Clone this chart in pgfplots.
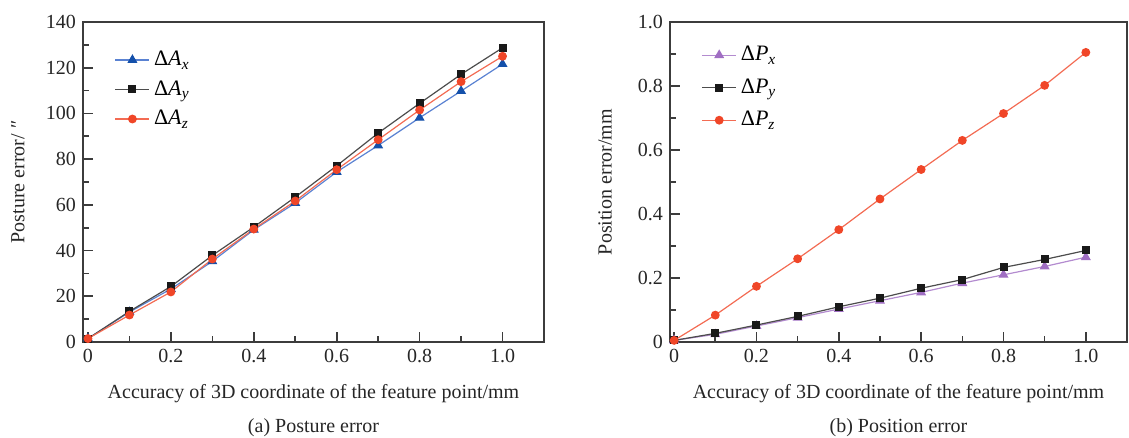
\documentclass[border=0pt]{standalone}
\usepackage{pgfplots}
\pgfplotsset{compat=1.18}
\usepackage{fontspec}
\setmainfont{Liberation Serif}
\definecolor{bluemk}{RGB}{20,80,170}
\definecolor{blueln}{RGB}{90,130,210}
\definecolor{redc}{RGB}{240,70,40}
\definecolor{purp}{RGB}{160,110,195}
\definecolor{axgray}{RGB}{60,60,60}
\pgfplotsset{
  common/.style={
    scale only axis,
    axis line style={axgray, line width=0.9pt},
    tick style={axgray, line width=0.8pt},
    major tick length=5pt,
    minor tick length=3pt,
    tick align=inside,
    xtick pos=bottom, ytick pos=left,
    xmin=-0.012, xmax=1.1,
    xtick={0,0.2,0.4,0.6,0.8,1.0},
    xticklabels={0,0.2,0.4,0.6,0.8,1.0},
    minor xtick={0.1,0.3,0.5,0.7,0.9},
    ymin=0,
    tick label style={font=\rmfamily\fontsize{10}{12}\selectfont, text=black!85},
    label style={font=\rmfamily\fontsize{10}{12}\selectfont, text=black!85},
    xlabel style={at={(axis description cs:0.5,-0.16)}, anchor=center},
    ylabel style={anchor=center, rotate=0},
    /pgf/number format/assume math mode=true,
    legend style={draw=none, fill=none, font=\rmfamily\fontsize{11}{13}\selectfont, row sep=2pt},
    legend cell align=left,
    every axis plot/.append style={line width=0.6pt, mark size=1.9pt},
  }
}
\begin{document}
\begin{tikzpicture}
\useasboundingbox (0,0) rectangle (564.5pt,-219pt);
\begin{axis}[common, name=A,
  at={(41.5pt,-171pt)}, anchor=south west,
  width=230.5pt, height=160pt,
  ymax=140, ytick={0,20,...,140}, minor ytick={10,30,...,130},
  xlabel={Accuracy of 3D coordinate of the feature point/mm},
  ylabel={Posture error/ ″},
  ylabel style={at={(axis description cs:-0.141,0.5)}},
  legend style={at={(axis description cs:0.055,0.935)}, anchor=north west},
]
\addplot[blueln, mark=triangle*, mark options={fill=bluemk, draw=bluemk}, mark size=2.3pt] coordinates {
(0,1.5) (0.1,13.1) (0.2,23.2) (0.3,35.3) (0.4,49.1) (0.5,60.8) (0.6,74.4) (0.7,86.0) (0.8,98.1) (0.9,109.8) (1.0,121.6)};
\addlegendentry{Δ\textit{A}\textsubscript{\textit{x}}}
\addplot[black!70, mark=square*, mark options={fill=black!90, draw=black!90}, mark size=1.7pt] coordinates {
(0,1.5) (0.1,13.4) (0.2,24.3) (0.3,37.9) (0.4,50.3) (0.5,63.4) (0.6,77.1) (0.7,91.4) (0.8,104.4) (0.9,117.1) (1.0,128.7)};
\addlegendentry{Δ\textit{A}\textsubscript{\textit{y}}}
\addplot[redc!80, mark=*, mark options={fill=redc, draw=redc}] coordinates {
(0,1.5) (0.1,11.8) (0.2,21.9) (0.3,36.3) (0.4,49.4) (0.5,61.7) (0.6,75.4) (0.7,88.5) (0.8,101.5) (0.9,113.9) (1.0,125.0)};
\addlegendentry{Δ\textit{A}\textsubscript{\textit{z}}}
\end{axis}
\begin{axis}[common, name=B,
  at={(335pt,-171pt)}, anchor=south west,
  width=228.5pt, height=160pt,
  xmin=-0.01, xmax=1.1,
  ymax=1.0, ytick={0,0.2,0.4,0.6,0.8,1.0},
  yticklabels={0,0.2,0.4,0.6,0.8,1.0},
  minor ytick={0.1,0.3,0.5,0.7,0.9},
  xlabel={Accuracy of 3D coordinate of the feature point/mm},
  ylabel={Position error/mm},
  ylabel style={at={(axis description cs:-0.142,0.5)}},
  legend style={at={(axis description cs:0.055,0.95)}, anchor=north west, row sep=3.5pt},
]
\addplot[purp!80, mark=triangle*, mark options={fill=purp, draw=purp}, mark size=2.3pt] coordinates {
(0,0.005) (0.1,0.024) (0.2,0.050) (0.3,0.076) (0.4,0.103) (0.5,0.129) (0.6,0.155) (0.7,0.184) (0.8,0.210) (0.9,0.236) (1.0,0.265)};
\addlegendentry{Δ\textit{P}\textsubscript{\textit{x}}}
\addplot[black!70, mark=square*, mark options={fill=black!90, draw=black!90}, mark size=1.7pt] coordinates {
(0,0.005) (0.1,0.027) (0.2,0.053) (0.3,0.080) (0.4,0.110) (0.5,0.137) (0.6,0.168) (0.7,0.195) (0.8,0.233) (0.9,0.258) (1.0,0.286)};
\addlegendentry{Δ\textit{P}\textsubscript{\textit{y}}}
\addplot[redc!80, mark=*, mark options={fill=redc, draw=redc}] coordinates {
(0,0.005) (0.1,0.084) (0.2,0.174) (0.3,0.260) (0.4,0.351) (0.5,0.447) (0.6,0.539) (0.7,0.630) (0.8,0.714) (0.9,0.802) (1.0,0.905)};
\addlegendentry{Δ\textit{P}\textsubscript{\textit{z}}}
\end{axis}
\node[font=\rmfamily\fontsize{10}{12}\selectfont, text=black!85] at ([yshift=-43pt]A.south) {(a) Posture error};
\node[font=\rmfamily\fontsize{10}{12}\selectfont, text=black!85] at ([yshift=-43pt]B.south) {(b) Position error};
\end{tikzpicture}
\end{document}
